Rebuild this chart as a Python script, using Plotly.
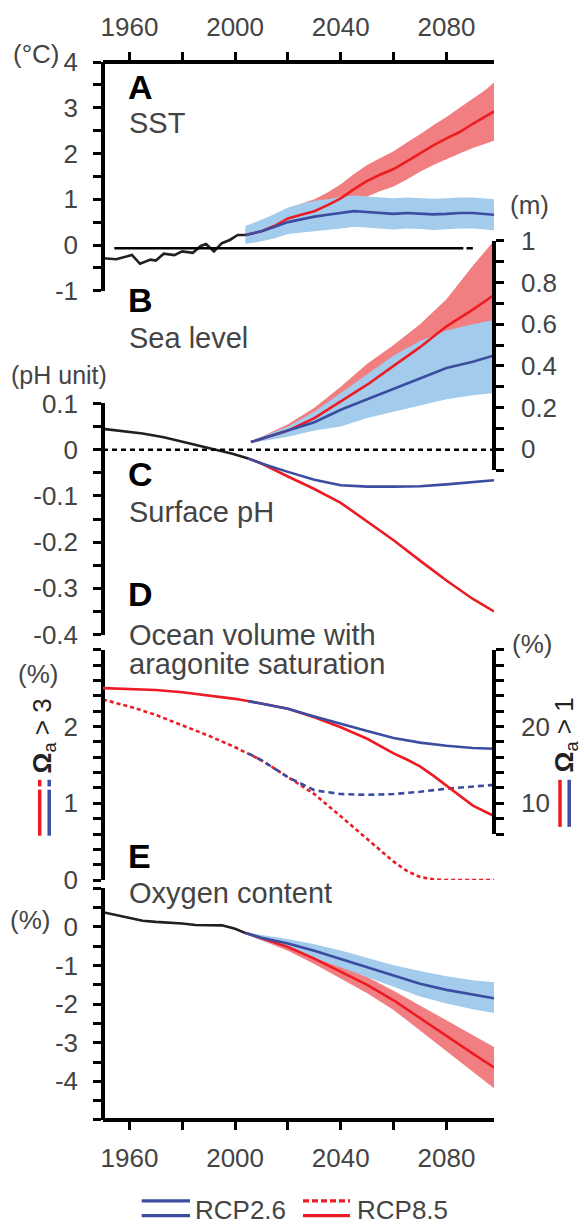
import plotly.graph_objects as go

# ---------------- data ----------------
x_tick_vals = [1960, 1980, 2000, 2020, 2040, 2060, 2080]
x_tick_text = ["1960", "", "2000", "", "2040", "", "2080"]

# A: SST (°C)
sst_obs_years = [1950, 1955, 1961, 1964, 1968, 1970, 1973, 1977, 1980, 1984, 1987, 1989, 1992, 1995, 1998, 2001, 2004]
sst_obs = [-0.29, -0.31, -0.22, -0.41, -0.32, -0.34, -0.19, -0.22, -0.14, -0.17, -0.02, 0.02, -0.14, 0.04, 0.11, 0.22, 0.22]
sst_years = [2004, 2010, 2015, 2020, 2025, 2030, 2035, 2040, 2045, 2050, 2055, 2060, 2065, 2070, 2075, 2080, 2085, 2090, 2095, 2098]
sst_rcp26 = [0.22, 0.3, 0.4, 0.5, 0.56, 0.62, 0.66, 0.7, 0.74, 0.72, 0.7, 0.68, 0.7, 0.69, 0.67, 0.68, 0.7, 0.7, 0.68, 0.66]
sst_rcp26_hi = [0.42, 0.55, 0.68, 0.82, 0.9, 0.97, 1.0, 1.05, 1.08, 1.06, 1.04, 1.02, 1.04, 1.03, 1.01, 1.02, 1.04, 1.04, 1.02, 1.0]
sst_rcp26_lo = [0.02, 0.08, 0.15, 0.24, 0.28, 0.3, 0.33, 0.36, 0.4, 0.38, 0.36, 0.34, 0.36, 0.35, 0.33, 0.34, 0.36, 0.36, 0.34, 0.32]
sst_rcp85 = [0.22, 0.3, 0.42, 0.58, 0.66, 0.74, 0.87, 1.02, 1.22, 1.4, 1.54, 1.66, 1.83, 2.0, 2.18, 2.33, 2.47, 2.65, 2.82, 2.92]
sst_rcp85_hi = [0.4, 0.5, 0.62, 0.8, 0.9, 1.0, 1.15, 1.33, 1.55, 1.75, 1.9, 2.05, 2.24, 2.42, 2.62, 2.8, 3.0, 3.2, 3.4, 3.55]
sst_rcp85_lo = [0.05, 0.12, 0.22, 0.36, 0.43, 0.5, 0.6, 0.72, 0.9, 1.06, 1.18, 1.28, 1.43, 1.6, 1.75, 1.88, 2.0, 2.12, 2.22, 2.28]
sst_ticks = [-1, -0.5, 0, 0.5, 1, 1.5, 2, 2.5, 3, 3.5, 4]
sst_tick_text = ["-1", "", "0", "", "1", "", "2", "", "3", "", "4"]

# B: Sea level (m)
sl_years = [2006, 2010, 2020, 2030, 2040, 2050, 2060, 2070, 2080, 2090, 2098]
sl_rcp26 = [0.035, 0.05, 0.09, 0.13, 0.19, 0.24, 0.29, 0.34, 0.39, 0.42, 0.45]
sl_rcp26_hi = [0.04, 0.06, 0.11, 0.18, 0.27, 0.36, 0.45, 0.52, 0.57, 0.6, 0.62]
sl_rcp26_lo = [0.03, 0.04, 0.06, 0.09, 0.11, 0.15, 0.18, 0.21, 0.24, 0.26, 0.27]
sl_rcp85 = [0.035, 0.05, 0.09, 0.15, 0.23, 0.31, 0.4, 0.49, 0.59, 0.67, 0.74]
sl_rcp85_hi = [0.04, 0.06, 0.12, 0.2, 0.3, 0.41, 0.5, 0.6, 0.72, 0.88, 1.0]
sl_rcp85_lo = [0.03, 0.05, 0.08, 0.13, 0.19, 0.26, 0.33, 0.41, 0.49, 0.56, 0.61]
sl_ticks = [-0.1, 0, 0.1, 0.2, 0.3, 0.4, 0.5, 0.6, 0.7, 0.8, 0.9, 1.0]
sl_tick_text = ["", "0", "", "0.2", "", "0.4", "", "0.6", "", "0.8", "", "1"]

# C: Surface pH (pH unit)
ph_obs_years = [1950, 1958, 1965, 1973, 1986, 1999, 2005]
ph_obs = [0.045, 0.04, 0.035, 0.027, 0.009, -0.009, -0.019]
ph_years = [2005, 2010, 2020, 2030, 2040, 2050, 2060, 2070, 2080, 2090, 2098]
ph_rcp26 = [-0.019, -0.03, -0.048, -0.065, -0.077, -0.08, -0.08, -0.079, -0.075, -0.07, -0.066]
ph_rcp85 = [-0.019, -0.03, -0.058, -0.085, -0.115, -0.155, -0.196, -0.24, -0.283, -0.323, -0.35]
ph_ticks = [-0.4, -0.35, -0.3, -0.25, -0.2, -0.15, -0.1, -0.05, 0, 0.05, 0.1]
ph_tick_text = ["-0.4", "", "-0.3", "", "-0.2", "", "-0.1", "", "0", "", "0.1"]

# D: Ocean volume with aragonite saturation (%)
ar_years_85 = [1950, 1960, 1970, 1980, 1990, 2000, 2010, 2020, 2030, 2040, 2050, 2060, 2065, 2070, 2075, 2080, 2090, 2098]
ar3_rcp85 = [2.35, 2.26, 2.15, 2.02, 1.88, 1.73, 1.56, 1.34, 1.12, 0.83, 0.54, 0.24, 0.12, 0.04, 0.01, 0.0, 0.0, 0.0]
ar1_rcp85 = [25.0, 24.9, 24.75, 24.45, 24.0, 23.6, 23.0, 22.3, 21.2, 19.9, 18.4, 16.5, 15.7, 14.8, 13.6, 12.3, 9.7, 8.35]
ar_years_26 = [2005, 2010, 2020, 2030, 2040, 2050, 2060, 2070, 2080, 2090, 2098]
ar3_rcp26 = [1.65, 1.56, 1.34, 1.17, 1.12, 1.11, 1.12, 1.15, 1.19, 1.22, 1.24]
ar1_rcp26 = [23.3, 23.0, 22.3, 21.3, 20.3, 19.4, 18.5, 17.9, 17.5, 17.2, 17.1]
ar3_ticks = [0, 0.2, 0.4, 0.6, 0.8, 1.0, 1.2, 1.4, 1.6, 1.8, 2.0, 2.2, 2.4, 2.6, 2.8, 3.0]
ar3_tick_text = ["0", "", "", "", "", "1", "", "", "", "", "2", "", "", "", "", ""]
ar1_ticks = [6, 8, 10, 12, 14, 16, 18, 20, 22, 24, 26, 28, 30]
ar1_tick_text = ["", "", "10", "", "", "", "", "20", "", "", "", "", ""]

# E: Oxygen content (%)
ox_obs_years = [1950, 1955, 1960, 1965, 1970, 1975, 1980, 1985, 1990, 1995, 2000, 2004]
ox_obs = [0.38, 0.3, 0.22, 0.16, 0.13, 0.11, 0.09, 0.05, 0.04, 0.04, -0.05, -0.16]
ox_years = [2004, 2010, 2020, 2030, 2040, 2050, 2060, 2070, 2080, 2090, 2098]
ox_rcp26 = [-0.16, -0.28, -0.43, -0.62, -0.83, -1.05, -1.27, -1.47, -1.63, -1.76, -1.85]
ox_rcp26_hi = [-0.13, -0.21, -0.31, -0.45, -0.61, -0.8, -0.99, -1.14, -1.28, -1.38, -1.43]
ox_rcp26_lo = [-0.19, -0.35, -0.55, -0.79, -1.05, -1.3, -1.55, -1.8, -1.98, -2.13, -2.23]
ox_rcp85 = [-0.16, -0.3, -0.52, -0.82, -1.17, -1.5, -1.9, -2.35, -2.82, -3.28, -3.64]
ox_rcp85_hi = [-0.13, -0.24, -0.42, -0.68, -1.0, -1.3, -1.65, -2.03, -2.42, -2.8, -3.11]
ox_rcp85_lo = [-0.19, -0.36, -0.62, -0.96, -1.34, -1.72, -2.15, -2.67, -3.22, -3.75, -4.18]
ox_ticks = [-5, -4.5, -4, -3.5, -3, -2.5, -2, -1.5, -1, -0.5, 0, 0.5, 1]
ox_tick_text = ["", "", "-4", "", "-3", "", "-2", "", "-1", "", "0", "", ""]

# ---------------- style ----------------
W, H = 584, 1224
L, R, T, B = 103, 494, 47, 1120
FONT = "Liberation Sans"
TXT = "#444444"
RED = "#ED1C24"
RED_BAND = "#F17F82"
BLUE = "#3B4DA0"
BLUE_BAND = "#A3CBEC"
BLACK = "#231F20"
LW = 2.6


def px(xp):
    return (xp - L) / (R - L)


def py(yp):
    return (B - yp) / (B - T)


fig = go.Figure()


def band(xs, lo, hi, color, yax):
    fig.add_trace(go.Scatter(x=list(xs) + list(xs)[::-1], y=list(hi) + list(lo)[::-1],
                             fill="toself", fillcolor=color, line=dict(width=0),
                             mode="lines", yaxis=yax, showlegend=False, hoverinfo="skip"))


def line(xs, ys, color, yax, dash="solid", width=LW):
    fig.add_trace(go.Scatter(x=xs, y=ys, mode="lines", line=dict(color=color, width=width, dash=dash),
                             yaxis=yax, showlegend=False, hoverinfo="skip"))


# A
band(sst_years, sst_rcp85_lo, sst_rcp85_hi, RED_BAND, "y")
band(sst_years, sst_rcp26_lo, sst_rcp26_hi, BLUE_BAND, "y")
line(sst_years, sst_rcp85, RED, "y")
line(sst_years, sst_rcp26, BLUE, "y")
line(sst_obs_years, sst_obs, BLACK, "y")
# B
band(sl_years, sl_rcp85_lo, sl_rcp85_hi, RED_BAND, "y2")
band(sl_years, sl_rcp26_lo, sl_rcp26_hi, BLUE_BAND, "y2")
line(sl_years, sl_rcp85, RED, "y2")
line(sl_years, sl_rcp26, BLUE, "y2")
# C
line(ph_years, ph_rcp85, RED, "y3")
line(ph_years, ph_rcp26, BLUE, "y3")
line(ph_obs_years, ph_obs, BLACK, "y3")
# D
line(ar_years_85, ar3_rcp85, RED, "y4", dash="4px,3px")
line(ar_years_26, ar3_rcp26, BLUE, "y4", dash="6px,4px")
line(ar_years_85, ar1_rcp85, RED, "y5")
line(ar_years_26, ar1_rcp26, BLUE, "y5")
# E
band(ox_years, ox_rcp85_lo, ox_rcp85_hi, RED_BAND, "y6")
band(ox_years, ox_rcp26_lo, ox_rcp26_hi, BLUE_BAND, "y6")
line(ox_years, ox_rcp85, RED, "y6")
line(ox_years, ox_rcp26, BLUE, "y6")
line(ox_obs_years, ox_obs, BLACK, "y6")
# dummy for the top axis
fig.add_trace(go.Scatter(x=[1950], y=[None], xaxis="x2", yaxis="y", showlegend=False, hoverinfo="skip"))

tickfont = dict(family=FONT, size=26, color=TXT)
axis_common = dict(showline=True, linewidth=3.5, linecolor="black", ticks="outside", ticklen=8,
                   tickwidth=3, tickcolor="black", showgrid=False, zeroline=False, tickfont=tickfont,
                   tickmode="array", fixedrange=True)

xr = [1950, 2098]
layout_axes = dict(
    xaxis=dict(domain=[0, 1], range=xr, anchor="free", position=0, side="bottom",
               tickvals=x_tick_vals, ticktext=x_tick_text, ticklabelstandoff=6, **axis_common),
    xaxis2=dict(domain=[0, 1], range=xr, anchor="free", position=1, side="top", overlaying="x",
                tickvals=x_tick_vals, ticktext=x_tick_text, ticklabelstandoff=6, **axis_common),
    yaxis=dict(domain=[py(279), 1], range=[-1, 4], anchor="free", position=0, side="left",
               tickvals=sst_ticks, ticktext=sst_tick_text, ticklabelstandoff=10, **axis_common),
    yaxis2=dict(domain=[py(461), py(228.3)], range=[-0.1, 1.0], anchor="free", position=1, side="right",
                tickvals=sl_ticks, ticktext=sl_tick_text, ticklabelstandoff=12, **axis_common),
    yaxis3=dict(domain=[py(627.7), py(393.3)], range=[-0.4, 0.1], anchor="free", position=0, side="left",
                tickvals=ph_ticks, ticktext=ph_tick_text, ticklabelstandoff=10, **axis_common),
    yaxis4=dict(domain=[py(876.7), py(643)], range=[0, 3.0], anchor="free", position=0, side="left",
                tickvals=ar3_ticks, ticktext=ar3_tick_text, ticklabelstandoff=10, **axis_common),
    yaxis5=dict(domain=[py(830), py(643)], range=[6, 30], anchor="free", position=1, side="right",
                tickvals=ar1_ticks, ticktext=ar1_tick_text, ticklabelstandoff=12, **axis_common),
    yaxis6=dict(domain=[0, py(885)], range=[-5, 1], anchor="free", position=0, side="left",
                tickvals=ox_ticks, ticktext=ox_tick_text, ticklabelstandoff=10, **axis_common),
)

shapes = [
    # SST reference line
    dict(type="line", xref="x", yref="y", x0=1954.3, x1=2086.4, y0=-0.07, y1=-0.07,
         line=dict(color="black", width=2.5)),
    dict(type="line", xref="x", yref="y", x0=2087.6, x1=2090, y0=-0.07, y1=-0.07,
         line=dict(color="black", width=2.5)),
    # sea level / pH zero line
    dict(type="line", xref="paper", yref="y3", x0=0, x1=1, y0=0, y1=0,
         line=dict(color="black", width=2.5, dash="5px,4px")),
]


def vline(x, y0, y1, color, width=3.5):
    shapes.append(dict(type="line", xref="paper", yref="paper", x0=px(x), x1=px(x), y0=py(y0), y1=py(y1),
                       line=dict(color=color, width=width)))


def hline(x0, x1, y, color, dash="solid", width=3.3):
    shapes.append(dict(type="line", xref="paper", yref="paper", x0=px(x0), x1=px(x1), y0=py(y), y1=py(y),
                       line=dict(color=color, width=width, dash=dash)))


# line-style keys next to the aragonite axis titles
vline(39.7, 775, 781.7, RED)
vline(39.7, 785, 831.7, RED)
vline(49.2, 775, 781.7, BLUE)
vline(49.2, 785, 831.7, BLUE)
vline(560, 775, 822.7, RED)
vline(569.2, 775, 822.7, BLUE)
# bottom legend
hline(141.7, 190, 1202, BLUE)
hline(141.7, 190, 1217, BLUE)
hline(303, 350, 1202, RED, dash="6px,3px")
hline(303, 350, 1217, RED)

annotations = []


def text(t, x, y, size=29, color=TXT, bold=False, angle=0, xanchor="left"):
    annotations.append(dict(text=("<b>%s</b>" % t) if bold else t, xref="paper", yref="paper",
                            x=px(x), y=py(y), xanchor=xanchor, yanchor="middle", showarrow=False,
                            textangle=angle, font=dict(family=FONT, size=size, color=color)))


for lab, yy in [("A", 72), ("B", 288), ("C", 465), ("D", 587), ("E", 852)]:
    text(lab, 126, yy, size=34, color="black", bold=True)
text("SST", 127, 109)
text("Sea level", 127, 327)
text("Surface pH", 127, 503)
text("Ocean volume with", 127, 628)
text("aragonite saturation", 127, 658)
text("Oxygen content", 127, 890)

text("(°C)", 11, 39, size=26)
text("(m)", 508, 192, size=26)
text("(pH unit)", 9, 364, size=25)
text("(%)", 16, 668, size=26)
text("(%)", 510, 637, size=26)
text("(%)", 8, 917, size=26)

text("<b>Ω</b><sub>a</sub> > 3", 43, 731, size=26, color="#222", angle=-90, xanchor="center")
text("<b>Ω</b><sub>a</sub> > 1", 565, 730, size=26, color="#222", angle=-90, xanchor="center")

text("RCP2.6", 193, 1211, size=26)
text("RCP8.5", 355, 1211, size=26)

fig.update_layout(
    width=W, height=H, autosize=False,
    margin=dict(l=L, r=W - R, t=T, b=H - B, pad=0),
    paper_bgcolor="white", plot_bgcolor="rgba(0,0,0,0)",
    showlegend=False, shapes=shapes, annotations=annotations,
    font=dict(family=FONT, color=TXT),
    **layout_axes,
)

fig.write_html("out.html")
